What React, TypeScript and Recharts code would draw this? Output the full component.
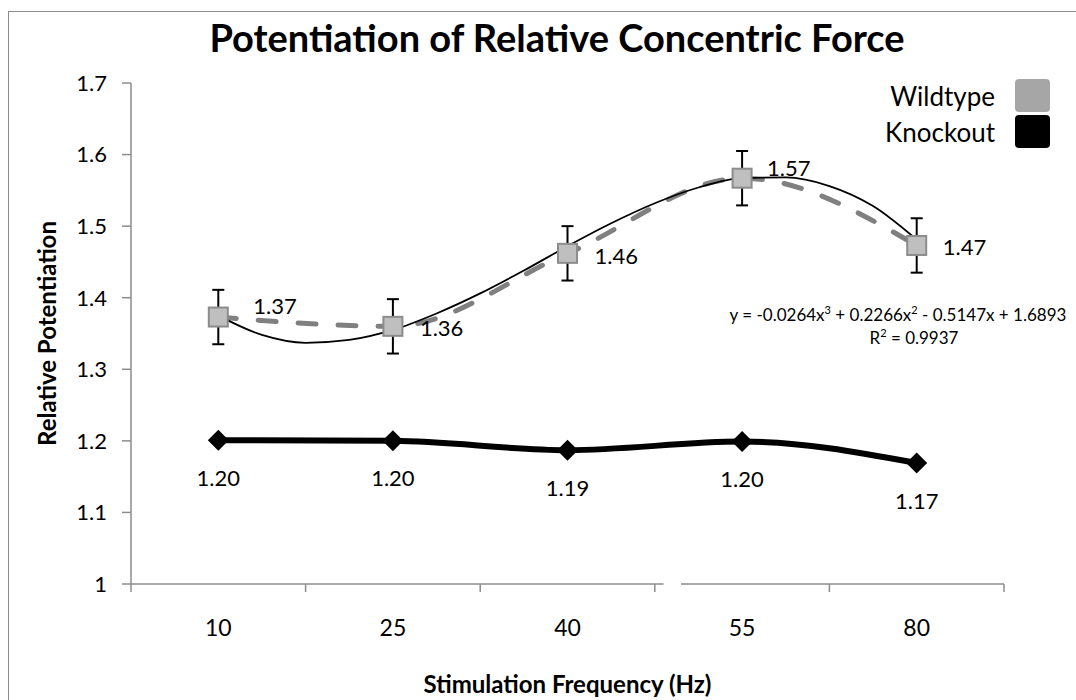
import React from 'react';
import {
  ComposedChart,
  Line,
  XAxis,
  YAxis,
  ErrorBar,
  ReferenceLine,
  Label,
  LabelList,
} from 'recharts';

// stimulation frequencies (Hz), drawn as evenly spaced categories 1..5
const categories = ['10', '25', '40', '55', '80'];
const positions = [1, 2, 3, 4, 5];

const wildtype = [1.373, 1.36, 1.462, 1.567, 1.473];
const wildtypeErr = [0.038, 0.038, 0.038, 0.038, 0.038];
const knockout = [1.201, 1.2, 1.187, 1.199, 1.169];

// cubic trendline of the wildtype series
const trendX = [1, 1.25, 1.5, 1.75, 2, 2.25, 2.5, 2.75, 3, 3.25, 3.5, 3.75, 4, 4.25, 4.5, 4.75, 5];
const trendY = [
  1.375, 1.348, 1.337, 1.341, 1.355, 1.378, 1.406, 1.438, 1.472, 1.504, 1.532, 1.554, 1.567,
  1.568, 1.556, 1.528, 1.481,
];

const yTicks = [1, 1.1, 1.2, 1.3, 1.4, 1.5, 1.6, 1.7];
const xTicks = [0.5, 1, 1.5, 2, 2.5, 3, 3.5, 4, 4.5, 5, 5.5];

const seriesNames = ['Wildtype', 'Knockout'];
const legendColors = ['#a6a6a6', '#000000'];

// label nudges for the wildtype values (the originals were dragged by hand)
const wildLabelDx = [35, 27, 27, 25, 26];
const wildLabelDy = [-12, 1, 2, -11, 1];

const FONT = 'Lato, "Open Sans", sans-serif';
const AXIS = '#8c8c8c';

const wildData = positions.map((x, i) => ({ x, y: wildtype[i], err: wildtypeErr[i] }));
const knockData = positions.map((x, i) => ({ x, y: knockout[i] }));
const trendData = trendX.map((x, i) => ({ x, y: trendY[i] }));

const supStyle = { fontSize: 11, lineHeight: 0 };

const XTick = (props: any) => {
  const { x, y, payload } = props;
  const v = payload.value as number;
  if (!Number.isInteger(v)) {
    return <line x1={x} y1={y} x2={x} y2={y + 8} stroke={AXIS} strokeWidth={1.5} />;
  }
  return (
    <text
      x={x}
      y={y + 43}
      textAnchor="middle"
      dominantBaseline="central"
      fontSize={23}
      fontFamily={FONT}
      fill="#000"
    >
      {categories[v - 1]}
    </text>
  );
};

const renderSquare = (props: any) => {
  const { cx, cy, index } = props;
  return (
    <rect
      key={`sq-${index}`}
      x={cx - 9.5}
      y={cy - 9.5}
      width={19}
      height={19}
      fill="#bfbfbf"
      stroke="#8c8c8c"
      strokeWidth={2}
    />
  );
};

const renderDiamond = (props: any) => {
  const { cx, cy, index } = props;
  return (
    <path
      key={`dm-${index}`}
      d={`M${cx},${cy - 10.5}L${cx + 10.5},${cy}L${cx},${cy + 10.5}L${cx - 10.5},${cy}Z`}
      fill="#000"
    />
  );
};

const WildLabel = (props: any) => {
  const { x, y, value, index } = props;
  return (
    <text
      x={x + wildLabelDx[index]}
      y={y + wildLabelDy[index]}
      textAnchor="start"
      dominantBaseline="central"
      fontSize={22}
      fontFamily={FONT}
      fill="#000"
    >
      {Number(value).toFixed(2)}
    </text>
  );
};

const KnockLabel = (props: any) => {
  const { x, y, value } = props;
  return (
    <text
      x={x}
      y={y + 37}
      textAnchor="middle"
      dominantBaseline="central"
      fontSize={22}
      fontFamily={FONT}
      fill="#000"
    >
      {Number(value).toFixed(2)}
    </text>
  );
};

const LegendBox = () => (
  <div
    style={{
      position: 'absolute',
      right: 26,
      top: 79,
      display: 'flex',
      flexDirection: 'column',
      alignItems: 'flex-end',
      gap: 3,
      zIndex: 2,
    }}
  >
    {seriesNames.map((name, i) => (
      <div key={name} style={{ display: 'flex', alignItems: 'center' }}>
        <span style={{ fontSize: 26, fontFamily: FONT, color: '#000', marginRight: 20 }}>{name}</span>
        <span
          style={{
            width: 35,
            height: 33,
            borderRadius: 4,
            background: legendColors[i],
            display: 'inline-block',
          }}
        />
      </div>
    ))}
  </div>
);

export default function App() {
  return (
    <div
      style={{
        position: 'absolute',
        left: 0,
        top: 0,
        width: 1076,
        height: 700,
        background: '#fff',
        fontFamily: FONT,
        overflow: 'hidden',
      }}
    >
      <div
        style={{
          position: 'absolute',
          left: 8,
          top: 11,
          width: 1080,
          height: 700,
          borderTop: '1.5px solid #8c8c8c',
          borderLeft: '1.5px solid #8c8c8c',
        }}
      />
      <div
        style={{
          position: 'absolute',
          left: 157,
          top: 14,
          width: 800,
          textAlign: 'center',
          fontSize: 38,
          fontWeight: 700,
          color: '#000',
          zIndex: 2,
        }}
      >
        Potentiation of Relative Concentric Force
      </div>
      <LegendBox />
      <div
        style={{
          position: 'absolute',
          left: 718,
          top: 303,
          width: 360,
          textAlign: 'center',
          fontSize: 17,
          lineHeight: '23px',
          color: '#000',
          zIndex: 2,
        }}
      >
        <div>
          y = -0.0264x<sup style={supStyle}>3</sup> + 0.2266x<sup style={supStyle}>2</sup> - 0.5147x +
          1.6893
        </div>
        <div style={{ paddingLeft: 32 }}>
          R<sup style={supStyle}>2</sup> = 0.9937
        </div>
      </div>
      <ComposedChart
        width={1076}
        height={700}
        margin={{ top: 83, right: 72, bottom: 56, left: 30 }}
        style={{ position: 'absolute', left: 0, top: 0 }}
      >
        <XAxis
          type="number"
          dataKey="x"
          domain={[0.5, 5.5]}
          ticks={xTicks}
          allowDecimals
          axisLine={false}
          tickLine={false}
          tickSize={0}
          tickMargin={0}
          tick={<XTick />}
          interval={0}
          height={60}
        >
          <Label
            value="Stimulation Frequency (Hz)"
            position="insideBottom"
            offset={-49}
            style={{ fontSize: 24, fontWeight: 700, fontFamily: FONT, fill: '#000' }}
          />
        </XAxis>
        <YAxis
          type="number"
          domain={[1, 1.7]}
          ticks={yTicks}
          interval={0}
          width={101}
          tickSize={9}
          tickMargin={15}
          stroke={AXIS}
          axisLine={{ stroke: AXIS, strokeWidth: 1.5 }}
          tickLine={{ stroke: AXIS, strokeWidth: 1.5 }}
          tick={{ fontSize: 22, fill: '#000', fontFamily: FONT }}
          tickFormatter={(v: number) => (v === 1 ? '1' : v.toFixed(1))}
        >
          <Label
            value="Relative Potentiation"
            angle={-90}
            position="insideLeft"
            offset={17}
            style={{ textAnchor: 'middle', fontSize: 24, fontWeight: 700, fontFamily: FONT, fill: '#000' }}
          />
        </YAxis>
        <ReferenceLine
          segment={[
            { x: 0.5, y: 1 },
            { x: 3.55, y: 1 },
          ]}
          stroke={AXIS}
          strokeWidth={1.5}
        />
        <ReferenceLine
          segment={[
            { x: 3.65, y: 1 },
            { x: 5.5, y: 1 },
          ]}
          stroke={AXIS}
          strokeWidth={1.5}
        />
        <Line
          name="Knockout"
          data={knockData}
          dataKey="y"
          type="monotone"
          stroke="#000"
          strokeWidth={6}
          dot={renderDiamond}
          activeDot={false}
          isAnimationActive={false}
        >
          <LabelList dataKey="y" content={<KnockLabel />} />
        </Line>
        <Line
          name="Wildtype"
          data={wildData}
          dataKey="y"
          type="monotone"
          stroke="#808080"
          strokeWidth={5}
          strokeDasharray="18 22"
          strokeLinecap="round"
          dot={renderSquare}
          activeDot={false}
          isAnimationActive={false}
        >
          <ErrorBar dataKey="err" direction="y" width={6} stroke="#000" strokeWidth={2} />
          <LabelList dataKey="y" content={<WildLabel />} />
        </Line>
        <Line
          name="Trend"
          data={trendData}
          dataKey="y"
          type="monotone"
          stroke="#000"
          strokeWidth={1.8}
          dot={false}
          activeDot={false}
          legendType="none"
          isAnimationActive={false}
        />
      </ComposedChart>
    </div>
  );
}
